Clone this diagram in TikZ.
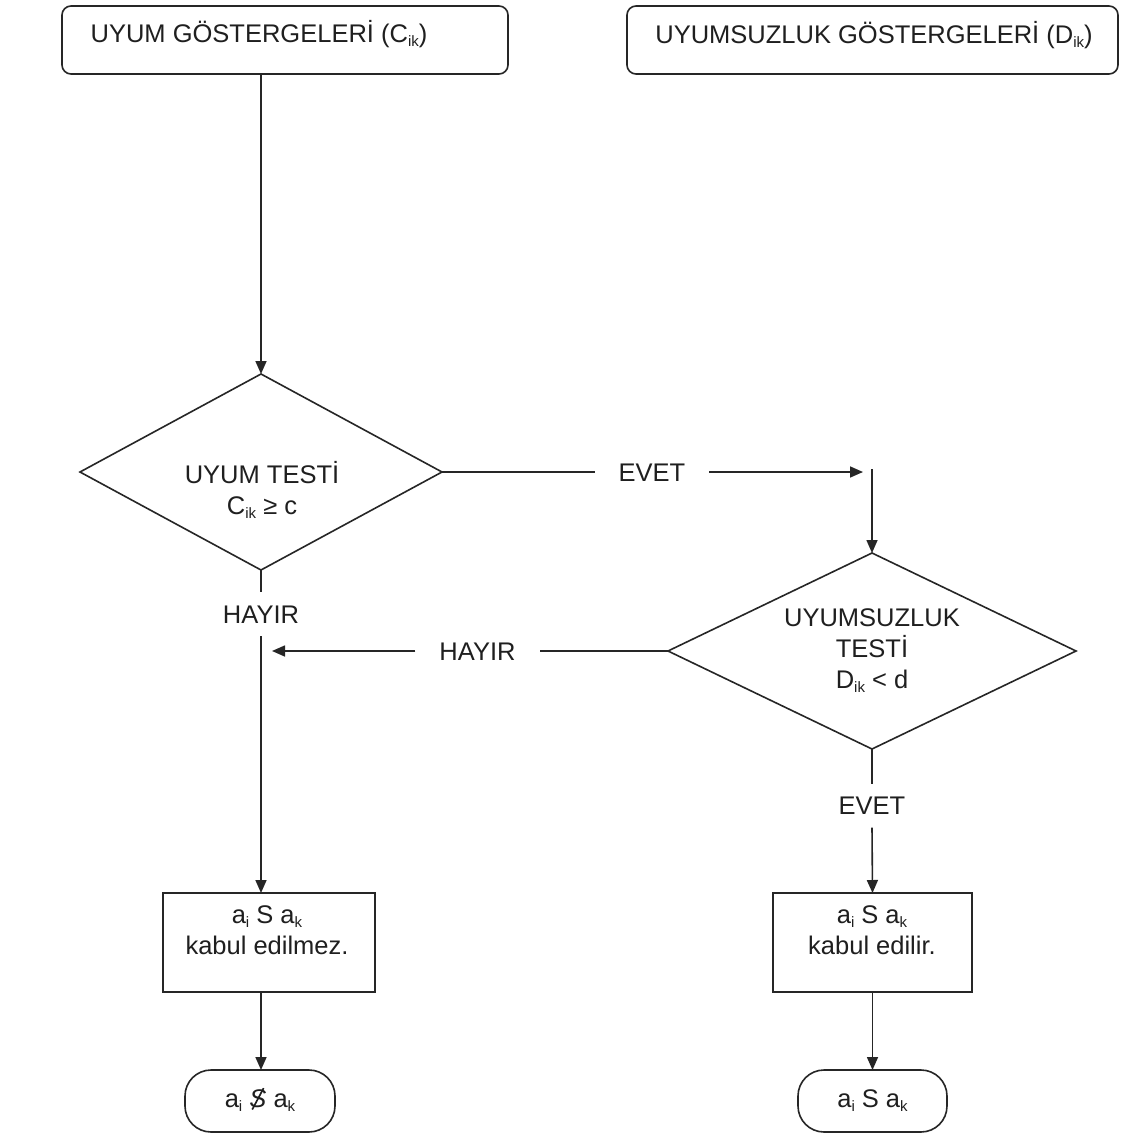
\documentclass[tikz,border=0pt]{standalone}
\usepackage{fontspec}
\setmainfont{Liberation Sans}
\usetikzlibrary{shapes.geometric,arrows.meta}
\newcommand\lowix[1]{\raisebox{-0.3ex}{\fontsize{15}{15}\selectfont #1}}
\newcommand\slashS{\ooalign{\hfil\textit{S}\hfil\cr\hfil\raisebox{-0.08em}{\rotatebox{62}{\rule{0.95em}{0.065em}}}\hfil\cr}}
\begin{document}
\begin{tikzpicture}[x=1pt,y=-1pt,
  font=\fontsize{25.5}{31}\selectfont,
  every node/.style={text=black!88},
  ln/.style={line width=1.6pt, draw=black!85},
  arr/.style={ln, -{Triangle[length=13pt,width=11pt]}},
  topbox/.style={ln, rounded corners=9pt, minimum height=68pt, inner sep=0pt, outer sep=0pt},
  procbox/.style={ln, minimum height=99pt, inner sep=0pt, outer sep=0pt},
  termbox/.style={ln, rounded corners=26pt, minimum height=62pt, inner sep=0pt, outer sep=0pt},
  dec/.style={ln, diamond, minimum height=196pt, inner sep=0pt, outer sep=0pt},
  lbl/.style={inner xsep=24pt, inner ysep=13pt, text height=18pt, text depth=0pt, outer sep=0pt},
]
\path[use as bounding box, fill=white] (0,0) rectangle (1123,1135);

% top boxes
\node[topbox, minimum width=446pt] (g1) at (285,40) {};
\node[anchor=base] (g1t) at (259,42) {UYUM GÖSTERGELERİ (C\lowix{ik})};
\node[topbox, minimum width=491pt] (g2) at (872.5,40) {};
\node[anchor=base] (g2t) at (874,43) {UYUMSUZLUK GÖSTERGELERİ (D\lowix{ik})};

% decisions
\node[dec, minimum width=362pt] (d1) at (261,472) {};
\node[align=center] (d1t) at (262,490) {UYUM TESTİ\\C\lowix{ik} ≥ c};
\node[dec, minimum width=408pt] (d2) at (872,651) {};
\node[align=center] (d2t) at (872,651) {UYUMSUZLUK\\TESTİ\\D\lowix{ik} < d};

% process boxes
\node[procbox, minimum width=212pt] (b1) at (269,942.5) {};
\node[align=center] (b1t) at (267,930) {a\lowix{i} S a\lowix{k}\\kabul edilmez.};
\node[procbox, minimum width=199pt] (b2) at (872.5,942.5) {};
\node[align=center] (b2t) at (872,930) {a\lowix{i} S a\lowix{k}\\kabul edilir.};

% terminals
\node[termbox, minimum width=150pt] (t1) at (260,1101) {a\lowix{i} \slashS{} a\lowix{k}};
\node[termbox, minimum width=149pt] (t2) at (872.5,1101) {a\lowix{i} S a\lowix{k}};

% labels
\node[lbl] (ev1) at (652,472) {EVET};
\node[lbl] (hy2) at (477.5,651) {HAYIR};
\node[lbl] (hy1) at (261,614) {HAYIR};
\node[lbl] (ev2) at (872,805.5) {EVET};
\coordinate (evend) at (863,472);
\coordinate (turn) at (872,469);
\coordinate (hyend) at (272,651);

% connectors
\draw[arr] (g1.south -| d1.north) -- (d1.north);
\draw[ln] (d1.east) -- (ev1.west);
\draw[arr] (ev1.east) -- (evend);
\draw[arr] (turn) -- (d2.north);
\draw[ln] (d2.west) -- (hy2.east);
\draw[arr] (hy2.west) -- (hyend);
\draw[ln] (d1.south) -- (hy1.north);
\draw[arr] (hy1.south) -- (b1.north -| hy1.south);
\draw[ln] (d2.south) -- (ev2.north);
\draw[arr] (ev2.south) -- (b2.north);
\draw[arr] (b1.south -| d1.south) -- (t1.north -| d1.south);
\draw[arr] (b2.south) -- (t2.north);
\end{tikzpicture}
\end{document}
